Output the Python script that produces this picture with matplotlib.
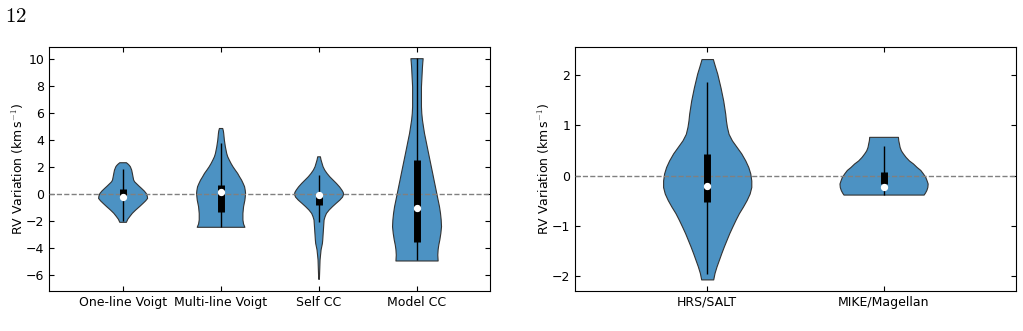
import numpy as np
import matplotlib.pyplot as plt

plt.rcParams['mathtext.fontset'] = 'cm'

# ---- left panel: violin profiles (y, relative half-width) ----
left_labels = ['One-line Voigt', 'Multi-line Voigt', 'Self CC', 'Model CC']

voigt1_y = [2.35, 2.25, 2.15, 2.05, 1.80, 1.56, 1.30, 1.06, 0.93, 0.81, 0.62, 0.44, 0.25, 0.07,
            -0.12, -0.30, -0.48, -0.67, -0.90, -1.16, -1.40, -1.65, -1.85, -2.07]
voigt1_w = [10, 15, 19, 22, 26, 28, 30, 32, 35, 40, 48, 56, 64, 70,
            73, 74, 68, 60, 50, 38, 28, 20, 14, 10]

voigtm_y = [4.89, 4.70, 4.52, 4.02, 3.53, 3.04, 2.80, 2.54, 2.30, 2.05, 1.80, 1.56, 1.30, 1.06,
            0.80, 0.57, 0.30, 0.07, -0.20, -0.42, -0.91, -1.41, -1.90, -2.20, -2.44]
voigtm_w = [5, 7, 8, 10, 13, 17, 20, 25, 30, 36, 43, 50, 56, 62,
            67, 71, 73, 74, 73, 72, 68, 66, 66, 68, 72]

selfcc_y = [2.79, 2.55, 2.30, 2.05, 1.80, 1.55, 1.31, 1.06, 0.81, 0.56, 0.32, 0.15, 0.0, -0.20,
            -0.42, -0.66, -0.91, -1.16, -1.41, -1.65, -1.90, -2.27, -2.64, -3.00, -3.38, -3.64,
            -3.88, -4.12, -4.37, -4.86, -5.60, -6.30]
selfcc_w = [4, 6, 9, 12, 17, 24, 32, 42, 52, 61, 68, 72, 73, 70,
            62, 51, 40, 30, 22, 18, 15, 14, 13, 12, 11, 10,
            8, 6, 5, 3, 2, 1]

modelcc_y = [10.07, 9.80, 9.46, 8.97, 8.47, 7.98, 7.48, 7.00, 6.50, 6.00, 5.50, 5.00, 4.52, 4.03,
             3.53, 3.03, 2.54, 2.05, 1.56, 1.06, 0.57, 0.07, -0.42, -0.91, -1.41, -1.90, -2.40,
             -2.89, -3.38, -3.75, -4.10, -4.50, -4.94]
modelcc_w = [18, 17, 16, 15, 14, 13, 13, 13, 13, 14, 16, 19, 22, 26,
             30, 34, 38, 42, 46, 50, 54, 58, 62, 66, 69, 71, 72,
             70, 67, 64, 62, 61, 62]

left_q1 = [-0.30, -1.36, -0.84, -3.60]
left_q3 = [0.40, 0.64, -0.05, 2.54]
left_med = [-0.22, 0.12, -0.10, -1.08]
left_lo = [-1.98, -2.44, -2.12, -4.94]
left_hi = [1.85, 3.78, 1.37, 10.07]

# ---- right panel ----
right_labels = ['HRS/SALT', 'MIKE/Magellan']

hrs_y = [2.32, 2.25, 2.16, 2.03, 1.89, 1.75, 1.62, 1.49, 1.36, 1.23, 1.10, 0.97, 0.83, 0.70,
         0.57, 0.44, 0.30, 0.17, 0.04, -0.10, -0.23, -0.36, -0.49, -0.62, -0.75, -0.88, -1.02,
         -1.15, -1.28, -1.41, -1.55, -1.68, -1.81, -1.94, -2.07]
hrs_w = [17, 20, 24, 30, 35, 40, 44, 48, 51, 54, 56, 59, 64, 74,
         88, 102, 114, 123, 129, 132, 132, 127, 118, 107, 95, 85, 75,
         66, 58, 50, 42, 35, 28, 22, 18]

mike_y = [0.77, 0.70, 0.64, 0.57, 0.50, 0.44, 0.37, 0.30, 0.24, 0.17, 0.11, 0.04, -0.03, -0.10,
          -0.16, -0.23, -0.29, -0.34, -0.38]
mike_w = [43, 44, 46, 48, 52, 58, 66, 76, 88, 99, 110, 118, 125, 129,
          132, 131, 128, 124, 120]

right_q1 = [-0.52, -0.17]
right_q3 = [0.42, 0.07]
right_med = [-0.21, -0.23]
right_lo = [-1.97, -0.38]
right_hi = [1.87, 0.58]

FILL = '#4c92c3'


def draw_panel(ax, profiles, q1, q3, med, lo, hi, labels):
    for i, (ys, ws) in enumerate(profiles):
        pos = i + 1
        ys = np.array(ys)
        ws = np.array(ws, dtype=float)
        ws = ws / ws.max() * 0.25
        ax.fill_betweenx(ys, pos - ws, pos + ws, facecolor=FILL,
                         edgecolor='#333333', linewidth=0.8, zorder=2)
    ax.axhline(0, color='grey', linestyle='--', linewidth=1, zorder=3)
    pos = np.arange(1, len(profiles) + 1)
    ax.vlines(pos, lo, hi, color='black', linewidth=1, zorder=4)
    ax.vlines(pos, q1, q3, color='black', linewidth=5, zorder=5)
    ax.scatter(pos, med, s=18, color='white', zorder=6)
    ax.set_xticks(pos)
    ax.set_xticklabels(labels)
    ax.tick_params(direction='in', top=True, right=True, labelsize=9)
    ax.set_ylabel(r'RV Variation (km$\,$s$^{-1}$)', fontsize=9, labelpad=0)


fig = plt.figure(figsize=(10.23, 3.31), dpi=100)
ax1 = fig.add_axes([0.048, 0.121, 0.431, 0.737])
ax2 = fig.add_axes([0.562, 0.121, 0.431, 0.737])

draw_panel(ax1,
           [(voigt1_y, voigt1_w), (voigtm_y, voigtm_w), (selfcc_y, selfcc_w), (modelcc_y, modelcc_w)],
           left_q1, left_q3, left_med, left_lo, left_hi, left_labels)
ax1.set_xlim(0.25, 4.75)
ax1.set_ylim(-7.2, 10.9)
ax1.set_yticks(np.arange(-6, 11, 2))

draw_panel(ax2, [(hrs_y, hrs_w), (mike_y, mike_w)],
           right_q1, right_q3, right_med, right_lo, right_hi, right_labels)
ax2.set_xlim(0.25, 2.75)
ax2.set_ylim(-2.3, 2.56)
ax2.set_yticks([-2, -1, 0, 1, 2])

fig.text(0.005, 0.935, r'$12$', fontsize=15)

fig.savefig('out.png', dpi=100)
